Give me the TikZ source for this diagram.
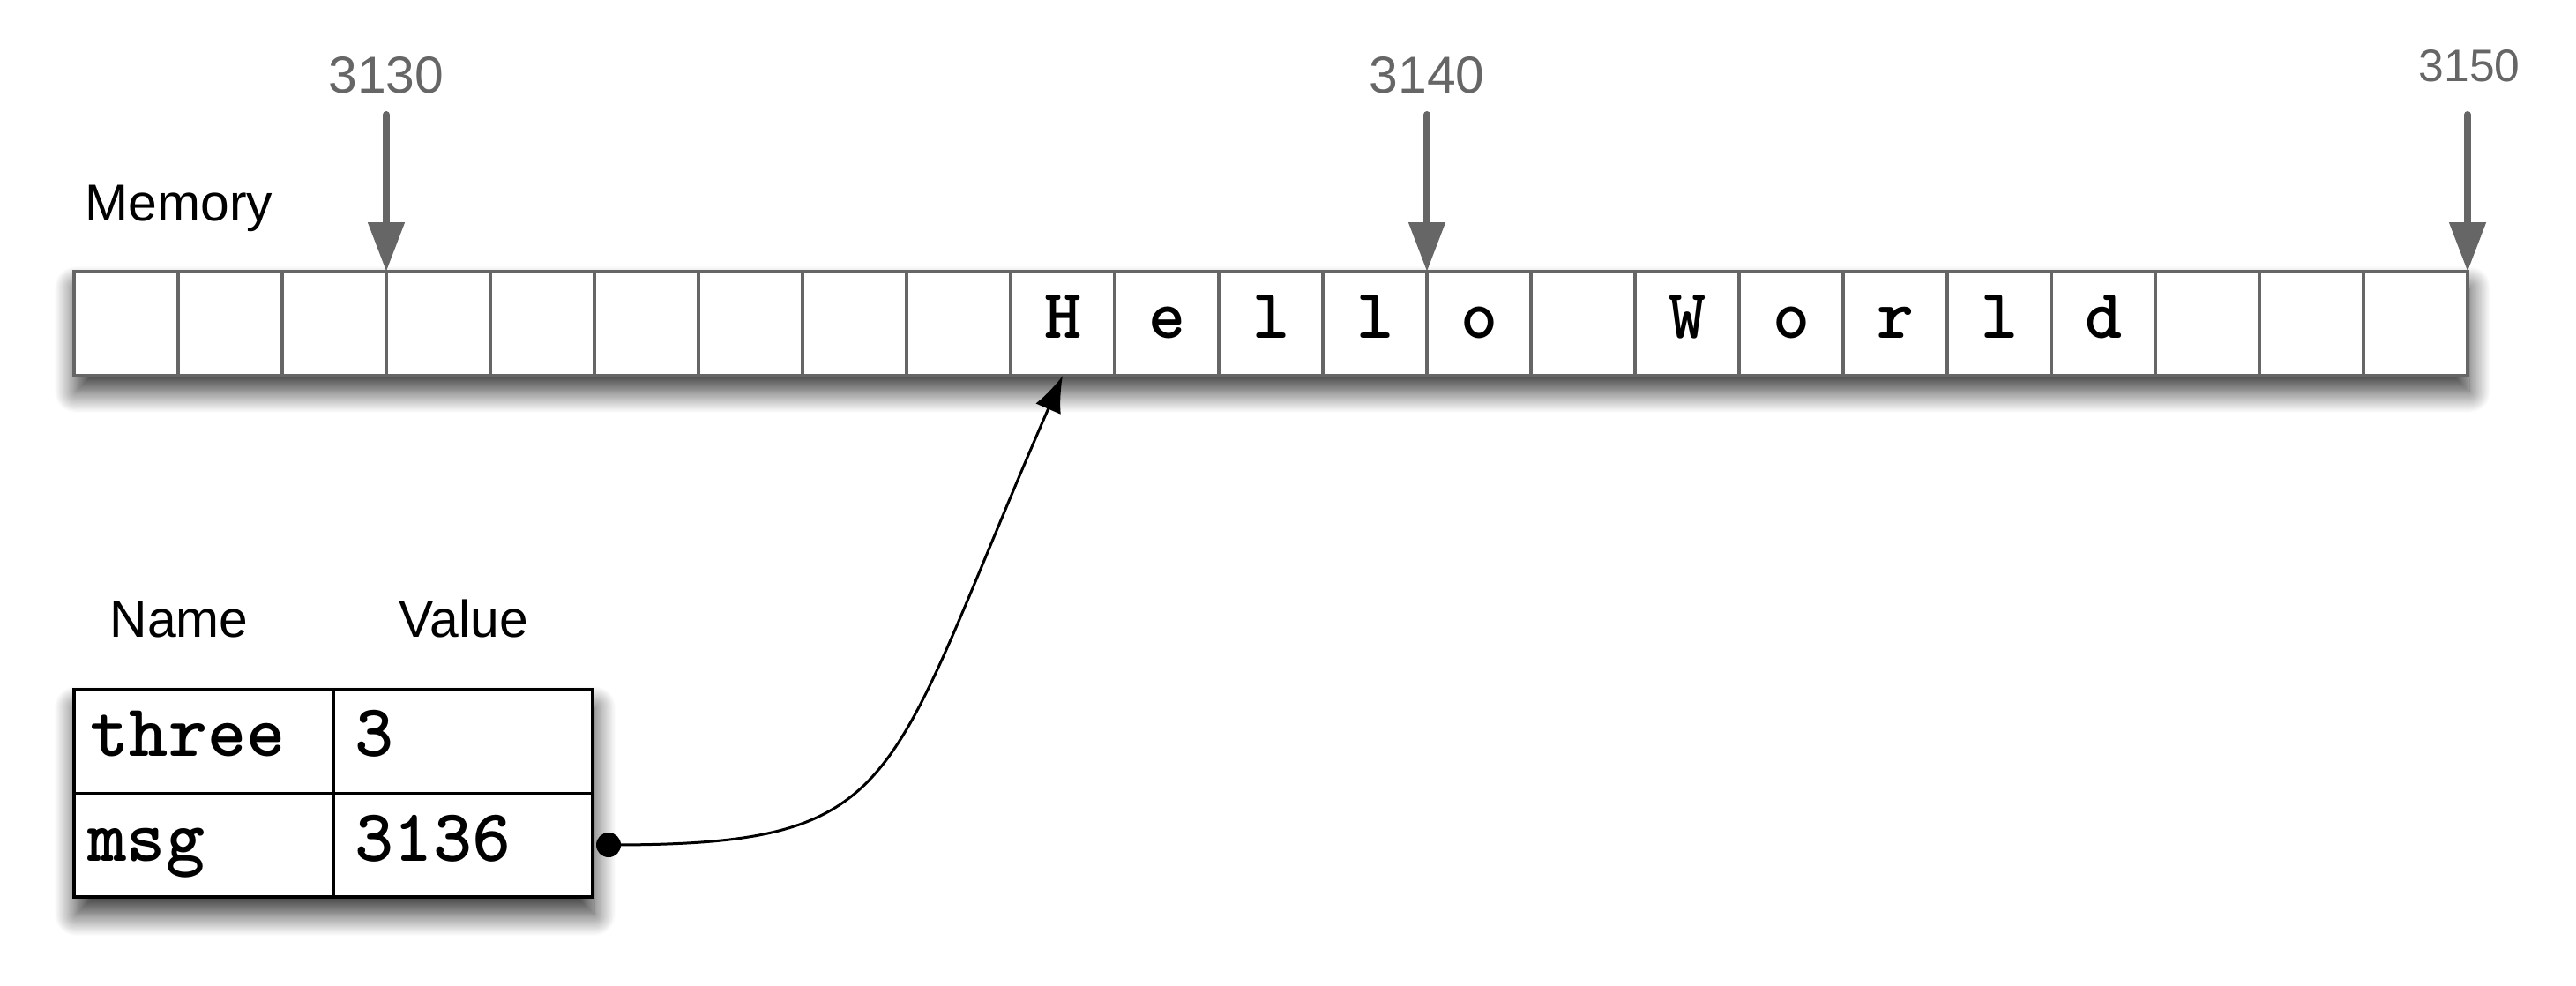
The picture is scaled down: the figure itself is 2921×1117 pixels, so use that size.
\documentclass[tikz,border=0pt]{standalone}
\usepackage{fontspec}
\setmainfont{Liberation Sans}
\usetikzlibrary{arrows.meta,shadows.blur}
\definecolor{memgray}{HTML}{666666}
\definecolor{addrgray}{HTML}{666666}
\begin{document}
\begin{tikzpicture}[x=0.25pt,y=-0.25pt,
  memcell/.style={draw=memgray, line width=0.8pt, minimum width=29.5pt, minimum height=29.5pt, inner sep=0pt, outer sep=0pt},
  memstrip/.style={draw=memgray, fill=white, line width=0.9pt, minimum width=678.5pt, minimum height=29.5pt, inner sep=0pt, outer sep=0pt,
    blur shadow={shadow xshift=0.5pt, shadow yshift=-4.5pt, shadow blur radius=6pt, shadow blur steps=20, shadow opacity=80}},
  memchar/.style={anchor=base, inner sep=0pt, font=\fontsize{20}{20}\selectfont\ttfamily\bfseries},
  addr/.style={anchor=base, inner sep=0pt, text=addrgray, font=\fontsize{14.7}{15}\selectfont},
  addrarrow/.style={draw=addrgray, line width=2pt, line cap=round, -{Triangle[length=14pt,width=10pt]}},
  lbl/.style={anchor=base west, inner sep=0pt, font=\fontsize{14.7}{15}\selectfont},
  tbl/.style={draw=black, fill=white, line width=0.9pt, minimum width=147pt, minimum height=58.75pt, inner sep=0pt, outer sep=0pt,
    blur shadow={shadow xshift=0.5pt, shadow yshift=-5pt, shadow blur radius=6pt, shadow blur steps=20, shadow opacity=80}},
  tbltext/.style={anchor=base west, inner sep=0pt, font=\fontsize{21}{21}\selectfont\ttfamily\bfseries},
  ptr/.style={draw=black, line width=0.75pt, -{Latex[length=10.25pt,width=7.75pt]}}
]
\useasboundingbox (0,0) rectangle (2921,1117);

% memory strip
\node[memstrip] (strip) at (1441,367) {};
\foreach \i in {0,...,22} \node[memcell] (c\i) at ({143+118*\i},367) {};
\foreach \i/\ch in {9/H,10/e,11/l,12/l,13/o,15/W,16/o,17/r,18/l,19/d}
  \node[memchar] (ch\i) at ({143+118*\i},383) {\ch};

\node[lbl] (memlbl) at (96,250) {Memory};

% addresses
\node[addr] (a3130) at (438,105) {3130};
\node[addr] (a3140) at (1618,105) {3140};
\node[addr, font=\fontsize{12.9}{13}\selectfont] (a3150) at (2800,92) {3150};
\coordinate (t3130) at (438,130);
\coordinate (t3140) at (1618,130);
\coordinate (t3150) at (2798,130);
\draw[addrarrow] (t3130) -- (c3.north west);
\draw[addrarrow] (t3140) -- (c13.north west);
\draw[addrarrow] (t3150) -- (c22.north east);

% variable table
\node[lbl] (namelbl) at (124,722) {Name};
\node[lbl] (valuelbl) at (452,722) {Value};
\node[tbl] (table) at (378,899.5) {};
\draw[line width=0.9pt] (table.west) -- (table.east);
\draw[line width=0.9pt] (table.north) -- (table.south);
\node[tbltext] (n1) at (102,857) {three};
\node[tbltext] (v1) at (402,857) {3};
\node[tbltext] (n2) at (99,976) {msg};
\node[tbltext] (v2) at (402,976) {3136};

% pointer
\node[circle, fill=black, inner sep=0pt, minimum size=7pt] (dot) at (690,958) {};
\draw[ptr] (dot.center) .. controls +(340,0) and +(-205,470) .. (c9.south);
\end{tikzpicture}
\end{document}
